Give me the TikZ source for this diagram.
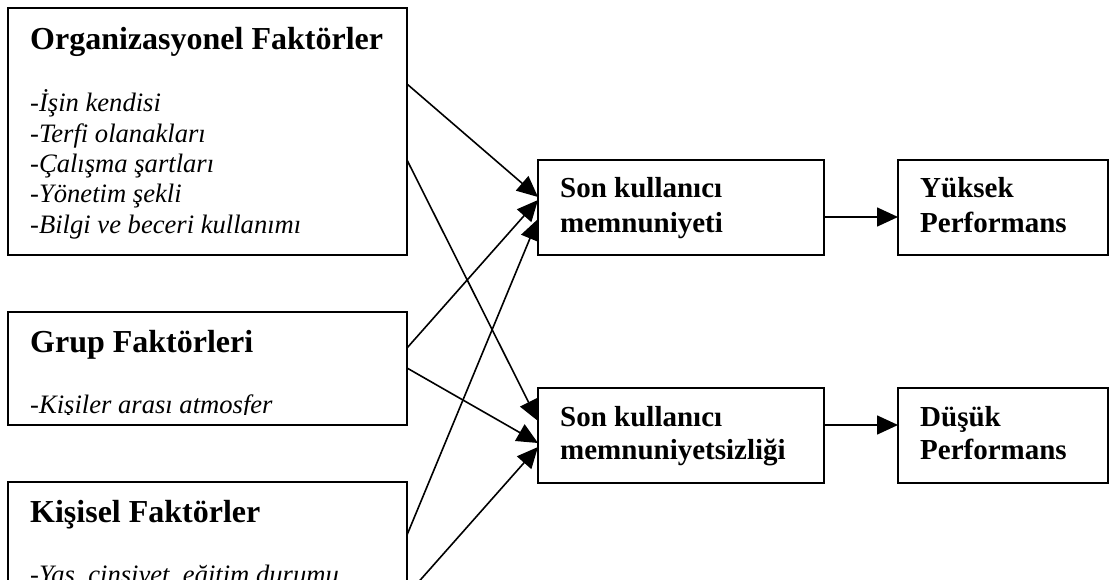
\documentclass[tikz,border=0pt]{standalone}
\usepackage{fontspec}
\setmainfont{Liberation Serif}
\usetikzlibrary{arrows.meta}

\tikzset{
  box/.style={draw=black, line width=1.7pt, fill=none, anchor=north west,
              inner sep=0pt, outer sep=0pt},
  title/.style={anchor=base west, inner sep=0pt, font=\fontsize{32}{36}\selectfont\bfseries},
  item/.style={anchor=base west, inner sep=0pt, font=\fontsize{26.6}{30}\selectfont\itshape},
  label/.style={anchor=base west, inner sep=0pt, font=\fontsize{29}{33}\selectfont\bfseries},
  link/.style={line width=1.6pt, -{Triangle[length=21pt,width=19pt]}}
}

\begin{document}
\begin{tikzpicture}[x=1pt, y=-1pt]
\useasboundingbox (0,0) rectangle (1117,580);
\clip (0,0) rectangle (1117,580);

% factor boxes on the left
\node[box, minimum width=399pt, minimum height=247pt] (org) at (8,8) {};
\node[box, minimum width=399pt, minimum height=113pt] (grp) at (8,312) {};
\node[box, minimum width=399pt, minimum height=140pt] (kis) at (8,482) {};

% outcome boxes
\node[box, minimum width=286pt, minimum height=95pt] (mem) at (538,160) {};
\node[box, minimum width=286pt, minimum height=95pt] (memz) at (538,388) {};
\node[box, minimum width=210pt, minimum height=95pt] (yuk) at (898,160) {};
\node[box, minimum width=210pt, minimum height=95pt] (dus) at (898,388) {};

% organisational factors
\node[title] (orgT) at (30,50) {Organizasyonel Faktörler};
\node[item] (org1) at (30,112) {-İşin kendisi};
\node[item] (org2) at (30,142.3) {-Terfi olanakları};
\node[item] (org3) at (30,172.6) {-Çalışma şartları};
\node[item] (org4) at (30,202.9) {-Yönetim şekli};
\node[item] (org5) at (30,233.2) {-Bilgi ve beceri kullanımı};

% group factors (text runs past the inner margin)
\node[title] (grpT) at (30,352) {Grup Faktörleri};
\begin{scope}
  \clip (8,312) rectangle (407,414.2);
  \node[item] (grp1) at (30,413) {-Kişiler arası atmosfer};
\end{scope}

% personal factors
\node[title] (kisT) at (30,522) {Kişisel Faktörler};
\node[item] (kis1) at (30,583) {-Yaş, cinsiyet, eğitim durumu};

% outcome labels
\node[label] (mem1) at (560,198) {Son kullanıcı};
\node[label] (mem2) at (560,232.5) {memnuniyeti};
\node[label] (memz1) at (560,426) {Son kullanıcı};
\node[label] (memz2) at (560,459) {memnuniyetsizliği};
\node[label] (yuk1) at (920,198) {Yüksek};
\node[label] (yuk2) at (920,232.5) {Performans};
\node[label] (dus1) at (920,426) {Düşük};
\node[label] (dus2) at (920,459) {Performans};

% factor -> satisfaction links
\draw[link] (org.east |- 0,84)  -- (mem.west |- 0,197);
\draw[link] (org.east |- 0,160) -- (memz.west |- 0,421);
\draw[link] (grp.east |- 0,348) -- (mem.west |- 0,200);
\draw[link] (grp.east |- 0,368) -- (memz.west |- 0,443);
\draw[link] (kis.east |- 0,535) -- (mem.west |- 0,219);
\draw[link] (kis.east |- 0,595) -- (memz.west |- 0,447);

% satisfaction -> performance
\draw[link] (mem.east |- 0,217)  -- (yuk.west |- 0,217);
\draw[link] (memz.east |- 0,425) -- (dus.west |- 0,425);
\end{tikzpicture}
\end{document}
